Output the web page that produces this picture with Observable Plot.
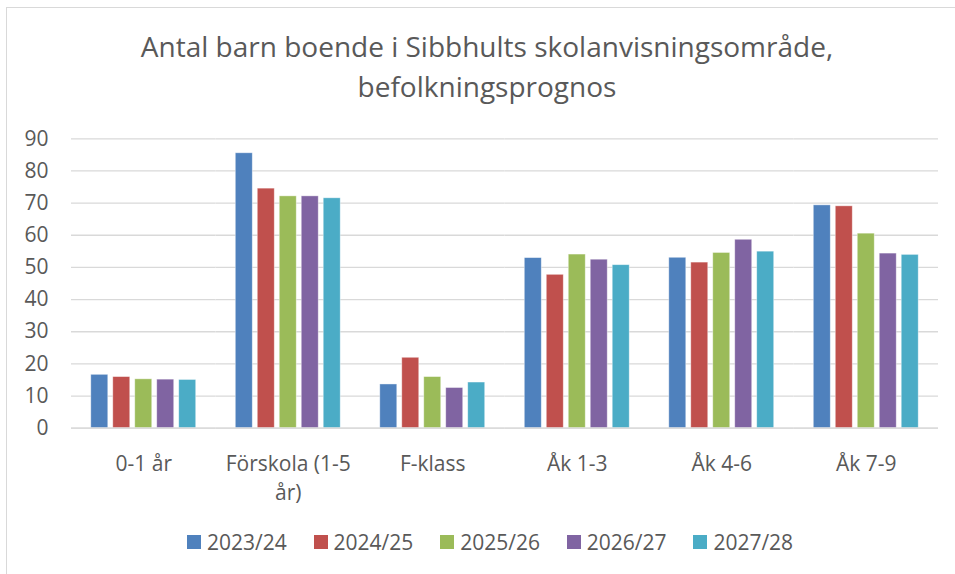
<!DOCTYPE html>
<html>
<head>
<meta charset="utf-8">
<script src="https://cdn.jsdelivr.net/npm/d3@7"></script>
<script src="https://cdn.jsdelivr.net/npm/@observablehq/plot@0.6"></script>
<style>
  html, body { margin: 0; padding: 0; background: #fff; }
  body { width: 955px; height: 574px; position: relative; overflow: hidden; font-family: "Open Sans", sans-serif; color: #595959; }
  #frame { position: absolute; left: 6px; top: 7px; width: 960px; height: 580px; border-top: 1.5px solid #d9d9d9; border-left: 1.5px solid #d9d9d9; }
  #title { position: absolute; left: 0; width: 974px; top: 26px; text-align: center; font-size: 28px; line-height: 40px; color: #595959; }
  #chart { position: absolute; left: 0; top: 120px; }
  #legend { position: absolute; left: 187px; top: 528px; height: 28px; display: flex; font-size: 21px; color: #595959; }
  .item { width: 126.6px; display: flex; align-items: center; white-space: nowrap; }
  .sw { width: 14px; height: 14px; margin-right: 6px; flex: none; }
</style>
</head>
<body>
<div id="frame"></div>
<div id="title">Antal barn boende i Sibbhults skolanvisningsområde,<br>befolkningsprognos</div>
<div id="chart"></div>
<div id="legend"></div>
<script>
const categories = ["0-1 år", "Förskola (1-5 år)", "F-klass", "Åk 1-3", "Åk 4-6", "Åk 7-9"];
const series = ["2023/24", "2024/25", "2025/26", "2026/27", "2027/28"];
const colors = ["#4F81BD", "#C0504D", "#9BBB59", "#8064A2", "#4BACC6"];
const v2023 = [16.6, 85.5, 13.6, 52.9, 53.0, 69.3];
const v2024 = [15.9, 74.5, 21.9, 47.7, 51.5, 69.0];
const v2025 = [15.2, 72.1, 15.9, 54.0, 54.5, 60.5];
const v2026 = [15.1, 72.1, 12.5, 52.4, 58.6, 54.3];
const v2027 = [15.0, 71.5, 14.2, 50.7, 54.9, 53.9];
const yTicks = [0, 10, 20, 30, 40, 50, 60, 70, 80, 90];

const allValues = [v2023, v2024, v2025, v2026, v2027];
const data = [];
series.forEach((s, si) => {
  categories.forEach((c, ci) => data.push({category: c, series: s, value: allValues[si][ci]}));
});

const labelFor = d => d === "Förskola (1-5 år)" ? "Förskola (1-5\når)" : d;

const chart = Plot.plot({
  width: 955,
  height: 380,
  marginLeft: 71,
  marginRight: 17,
  marginTop: 18.3,
  marginBottom: 72.3,
  style: {fontFamily: "Open Sans, sans-serif", fontSize: "21px", color: "#595959", background: "transparent", overflow: "visible"},
  fx: {domain: categories, padding: 0, round: false, label: null},
  x: {domain: series, paddingInner: 0.227, paddingOuter: 0.9, round: false, axis: null},
  y: {domain: [0, 90], label: null},
  color: {domain: series, range: colors},
  marks: [
    Plot.gridY(yTicks, {stroke: "#d9d9d9", strokeOpacity: 1, strokeWidth: 1.3, facetAnchor: null}),
    Plot.axisY(yTicks, {tickSize: 0, tickPadding: 23, fontSize: 21, fill: "#595959", label: null}),
    Plot.axisFx({anchor: "bottom", tickSize: 0, tickPadding: 22, fontSize: 21, fill: "#595959", tickFormat: labelFor, label: null, lineHeight: 1.4}),
    Plot.barY(data, {fx: "category", x: "series", y: "value", fill: "series", stroke: "white", strokeOpacity: 0.5, strokeWidth: 0.8}),
    Plot.ruleY([0], {stroke: "#d9d9d9", strokeWidth: 1.3, facetAnchor: null})
  ]
});
document.getElementById("chart").appendChild(chart);

const legend = document.getElementById("legend");
series.forEach((s, i) => {
  const item = document.createElement("div");
  item.className = "item";
  const sw = document.createElement("span");
  sw.className = "sw";
  sw.style.background = colors[i];
  const t = document.createElement("span");
  t.textContent = s;
  item.appendChild(sw);
  item.appendChild(t);
  legend.appendChild(item);
});
</script>
</body>
</html>
